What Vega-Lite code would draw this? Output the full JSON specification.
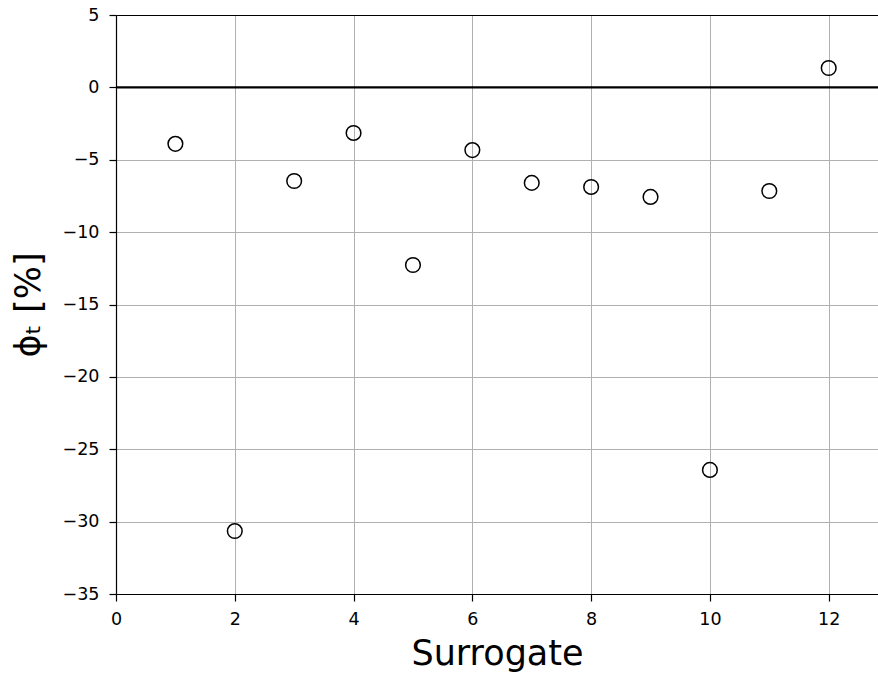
{
  "$schema": "https://vega.github.io/schema/vega-lite/v6.json",
  "width": 762,
  "height": 579,
  "autosize": {"type": "none"},
  "padding": {"left": 116, "top": 15, "right": 0, "bottom": 81},
  "background": "white",
  "config": {
    "view": {"stroke": null},
    "font": "DejaVu Sans",
    "axis": {
      "labelFont": "DejaVu Sans",
      "titleFont": "DejaVu Sans",
      "labelFontSize": 17.5,
      "labelColor": "#000000",
      "titleColor": "#000000",
      "titleFontWeight": "normal",
      "titleFontSize": 35,
      "domainColor": "#000000",
      "domainWidth": 1.2,
      "tickColor": "#000000",
      "tickSize": 7,
      "tickWidth": 1.2,
      "labelPadding": 6,
      "labelFlush": false,
      "gridColor": "#b0b0b0",
      "gridWidth": 1,
      "gridOpacity": 1
    }
  },
  "data": {
    "values": [
      {"surrogate": 1, "phi": -3.9},
      {"surrogate": 2, "phi": -30.65},
      {"surrogate": 3, "phi": -6.47},
      {"surrogate": 4, "phi": -3.15},
      {"surrogate": 5, "phi": -12.27},
      {"surrogate": 6, "phi": -4.33},
      {"surrogate": 7, "phi": -6.6},
      {"surrogate": 8, "phi": -6.88},
      {"surrogate": 9, "phi": -7.57},
      {"surrogate": 10, "phi": -26.43},
      {"surrogate": 11, "phi": -7.16},
      {"surrogate": 12, "phi": 1.34}
    ]
  },
  "layer": [
    {
      "mark": {"type": "rule", "color": "#000000", "strokeWidth": 2.2},
      "data": {"values": [{"y": 0}]},
      "encoding": {
        "y": {"field": "y", "type": "quantitative"}
      }
    },
    {
      "mark": {"type": "point", "shape": "circle", "filled": false, "stroke": "#000000", "strokeWidth": 1.5, "size": 215, "opacity": 1},
      "encoding": {
        "x": {
          "field": "surrogate",
          "type": "quantitative",
          "scale": {"domain": [0, 12.83], "nice": false, "zero": false},
          "axis": {"values": [0, 2, 4, 6, 8, 10, 12], "format": "d", "title": "Surrogate", "labelPadding": 9, "titlePadding": 9, "grid": true}
        },
        "y": {
          "field": "phi",
          "type": "quantitative",
          "scale": {"domain": [-35, 5], "nice": false, "zero": false},
          "axis": {"values": [5, 0, -5, -10, -15, -20, -25, -30, -35], "format": "d", "title": "ϕₜ [%]", "labelPadding": 10, "titlePadding": 16, "grid": true}
        }
      }
    },
    {
      "mark": {"type": "point", "opacity": 0},
      "encoding": {
        "x": {
          "field": "surrogate",
          "type": "quantitative",
          "axis": {"orient": "top", "labels": false, "ticks": false, "grid": false, "title": null, "domain": true}
        }
      }
    }
  ],
  "resolve": {"axis": {"x": "independent"}}
}
